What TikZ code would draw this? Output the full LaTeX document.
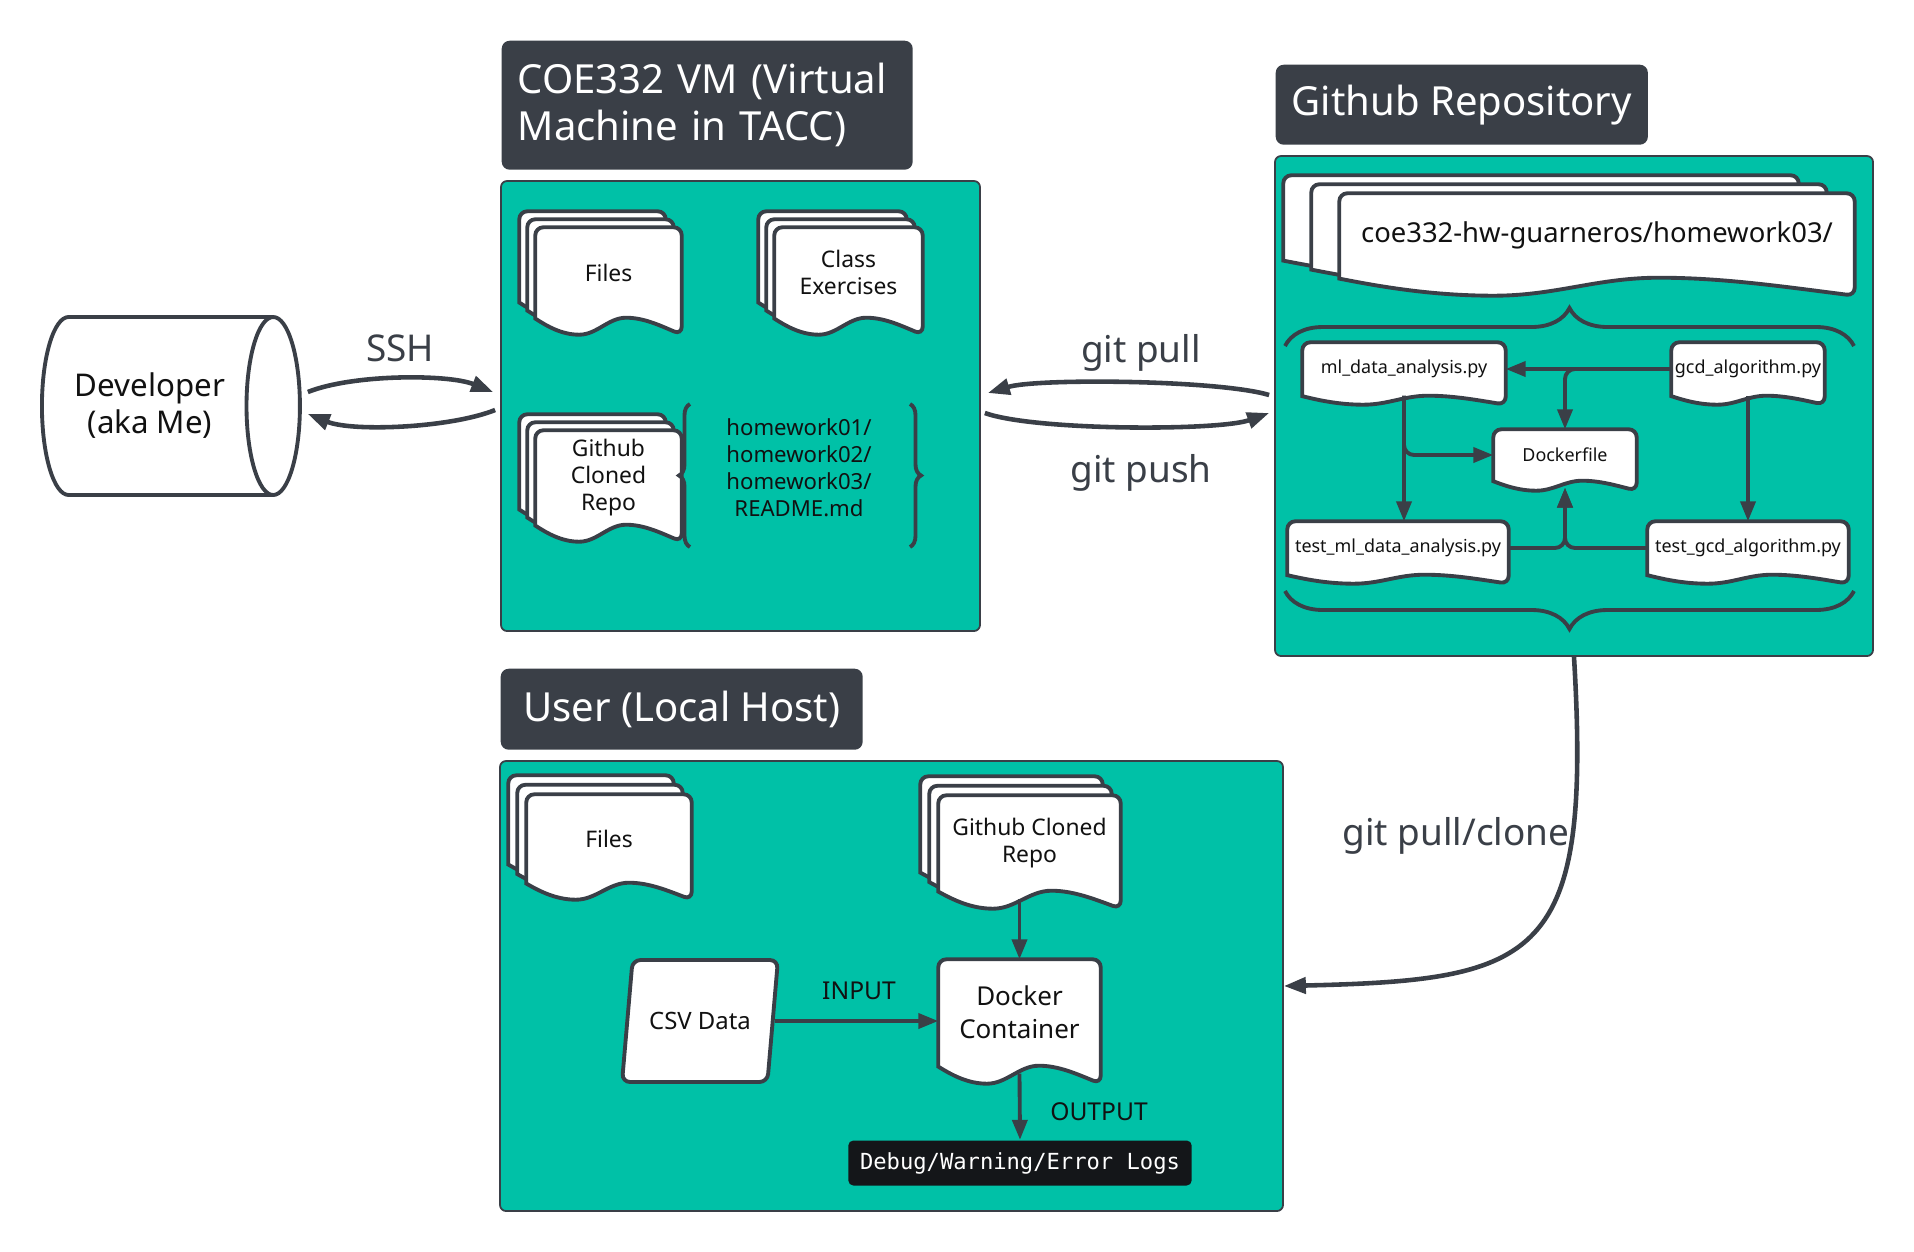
\documentclass[tikz,border=0pt]{standalone}
\usepackage{fontspec}
\setmainfont{Noto Sans}
\setmonofont{DejaVu Sans Mono}
\usetikzlibrary{shapes.geometric, arrows.meta, calc, positioning, decorations.pathreplacing}

\definecolor{teal0}{HTML}{00C1A7}
\definecolor{head}{HTML}{3A3F47}
\definecolor{linegray}{HTML}{3A3F47}
\definecolor{ink}{HTML}{111111}
\definecolor{logbg}{HTML}{141619}

\pgfdeclarelayer{panel}
\pgfdeclarelayer{docs}
\pgfsetlayers{panel,docs,main}

\tikzset{
  panel/.style={draw=linegray, line width=0.5pt, fill=teal0, rounded corners=0.6mm},
  header/.style={fill=head, text=white, rounded corners=0.8mm, anchor=north west, align=left,
    inner xsep=1.6mm, font=\fontsize{11.4}{13.4}\selectfont},
  docline/.style={draw=linegray, fill=white, line width=1.1pt},
  doc/.style 2 args={minimum width=#1, minimum height=#2, inner sep=0pt, align=center, text=ink,
    font=\fontsize{6.5}{7.7}\selectfont},
  pyfile/.style 2 args={doc={#1}{#2}, font=\fontsize{5.1}{6}\selectfont},
  conn/.style={draw=linegray, line width=1.1pt, -{Triangle[length=2mm,width=1.5mm]}},
  link/.style={draw=linegray, line width=1.3pt, -{Triangle[length=2.2mm,width=1.6mm]}},
  tag/.style={text=linegray, font=\fontsize{10.5}{12}\selectfont},
  bracket/.style={draw=linegray, line width=1.1pt, decorate},
}

\newcommand{\docpath}[2]{%
  \draw[docline] ($(#1.south west)+(0,0.05*#2)$) [rounded corners=0.8mm] -- (#1.north west)
    -- (#1.north east) -- ($(#1.south east)+(0,#2)$) [sharp corners]
    .. controls ($(#1.south west)!0.85!(#1.south east)+(0,0.45*#2)$)
       and ($(#1.south west)!0.74!(#1.south east)$) .. ($(#1.south west)!0.62!(#1.south east)$)
    .. controls ($(#1.south west)!0.5!(#1.south east)$)
       and ($(#1.south west)!0.42!(#1.south east)+(0,#2)$) .. ($(#1.south west)!0.3!(#1.south east)+(0,#2)$)
    .. controls ($(#1.south west)!0.18!(#1.south east)+(0,#2)$)
       and ($(#1.south west)!0.08!(#1.south east)+(0,0.5*#2)$) .. ($(#1.south west)+(0,0.05*#2)$) -- cycle;}

\newcommand{\docstack}[4]{%
  \begin{scope}[transform canvas={shift={(-2*#3,-2*#4)}}]\docpath{#1}{#2}\end{scope}
  \begin{scope}[transform canvas={shift={(-#3,-#4)}}]\docpath{#1}{#2}\end{scope}
  \docpath{#1}{#2}}

\begin{document}
\begin{tikzpicture}[x=0.1mm, y=-0.1mm]
\useasboundingbox (0,0) rectangle (1914,1251);

\begin{pgfonlayer}{panel}
\fill[white] (0,0) rectangle (1914,1251);
\node[panel, minimum width=47.9mm, minimum height=45mm] (vm) at (740.5,406) {};
\node[panel, minimum width=59.8mm, minimum height=50mm] (repo) at (1574,406) {};
\node[panel, minimum width=78.3mm, minimum height=45mm] (user) at (891.5,986) {};
\end{pgfonlayer}

\node[header, minimum width=41.1mm, minimum height=12.9mm, text width=37.9mm] (vmhead) at (501,40) {COE332 VM (Virtual\\Machine in TACC)};
\node[header, minimum width=36.8mm, minimum height=8mm] (repohead) at (1275,64) {Github Repository};
\node[header, minimum width=36.2mm, minimum height=8.1mm] (userhead) at (500,668) {User (Local Host)};

\node[cylinder, draw=linegray, fill=white, line width=1.1pt, shape aspect=0.6, minimum height=25.8mm,
  minimum width=17.8mm, anchor=west, text=ink, align=center, font=\fontsize{8.9}{10.5}\selectfont] (dev) at (40,406) {Developer\\(aka Me)};

\node[doc={14.5mm}{8.9mm}] (vmfiles) at (608.5,272.5) {Files};
\node[doc={14.7mm}{8.9mm}] (vmclass) at (848.5,272.5) {Class\\Exercises};
\node[doc={14.5mm}{9.3mm}] (vmclone) at (608.5,477.5) {Github\\Cloned\\Repo};
\node[text=ink, align=center, font=\fontsize{6.3}{7.7}\selectfont] (hwlist) at (799,468) {homework01/\\homework02/\\homework03/\\README.md};

\node[doc={51.4mm}{8.3mm}, font=\fontsize{7.8}{9.4}\selectfont] (repodir) at (1597,235.5) {\raisebox{-1.2mm}{coe332-hw-guarneros/homework03/}};
\node[pyfile={20.2mm}{5.2mm}] (ml) at (1404,369) {ml\_data\_analysis.py};
\node[pyfile={15.2mm}{5.2mm}] (gcd) at (1748,369) {gcd\_algorithm.py};
\node[pyfile={14.2mm}{5mm}] (dock) at (1565,455) {Dockerfile};
\node[pyfile={22mm}{5.2mm}] (testml) at (1398,548) {test\_ml\_data\_analysis.py};
\node[pyfile={20mm}{5.2mm}] (testgcd) at (1748,548) {test\_gcd\_algorithm.py};

\node[doc={16.4mm}{8.7mm}] (ufiles) at (609,838.5) {Files};
\node[doc={18.1mm}{9.4mm}] (uclone) at (1029.5,843) {Github Cloned\\Repo};
\node[doc={16.1mm}{10.5mm}, font=\fontsize{7.4}{9.3}\selectfont] (dockc) at (1019.5,1012.5) {Docker\\Container};
\node[trapezium, trapezium left angle=76.6, trapezium right angle=103.4, trapezium stretches,
  draw=linegray, fill=white, line width=1.1pt, rounded corners=0.8mm, minimum width=15.6mm,
  minimum height=12.2mm, text=ink, font=\fontsize{6.8}{8}\selectfont] (csv) at (700,1021) {CSV Data};
\node[fill=logbg, text=white, rounded corners=0.5mm, minimum width=33.8mm, minimum height=4.4mm,
  font=\ttfamily\fontsize{6.3}{7.5}\selectfont] (logs) at (1020,1163) {Debug/Warning/Error Logs};

\begin{pgfonlayer}{docs}
\docstack{vmfiles}{17}{8}{8}
\docstack{vmclass}{17}{8}{8}
\docstack{vmclone}{17}{8}{8}
\docstack{repodir}{18}{28}{9}
\docpath{ml}{9}
\docpath{gcd}{9}
\docpath{dock}{10}
\docpath{testml}{9}
\docpath{testgcd}{9}
\docstack{ufiles}{17}{9}{9.5}
\docstack{uclone}{18}{9}{9.5}
\docpath{dockc}{18}
\end{pgfonlayer}

\draw[bracket, decoration={brace, amplitude=1.1mm}] (690,547) -- (690,404);
\draw[bracket, decoration={brace, amplitude=1.1mm}] (910,404) -- (910,547);
\draw[bracket, decoration={brace, amplitude=3.8mm}] (1285,346) -- (1854,346);
\draw[bracket, decoration={brace, amplitude=3.8mm}] (1854,591) -- (1285,591);

\node[tag] (ssh) at (400,348) {SSH};
\node[tag] (pull) at (1141,353) {git pull};
\node[tag] (push) at (1141,473) {git push};
\node[tag] (clone) at (1456,836) {git pull/clone};
\node[text=ink, font=\fontsize{7}{8}\selectfont] (inlab) at (859,991) {INPUT};
\node[text=ink, font=\fontsize{7}{8}\selectfont] (outlab) at (1099,1112) {OUTPUT};

\draw[link] ($(dev.east)+(6,-14)$) .. controls +(45,-18) and +(-45,-18) .. ($(vm.west)+(-7,-14)$);
\draw[link] ($(vm.west)+(-5,4)$) .. controls +(-45,18) and +(45,18) .. ($(dev.east)+(6,8)$);
\draw[link] ($(repo.west)+(-5,-11)$) .. controls +(-50,-15) and +(50,-15) .. ($(vm.east)+(7,-13)$);
\draw[link] ($(vm.east)+(4,7)$) .. controls +(50,18) and +(-50,18) .. ($(repo.west)+(-5,7)$);
\draw[link] (repo.south) .. controls (1592,960) and (1540,980) .. (user.east);

\draw[conn] (gcd.west) -- (ml.east);
\draw[conn, rounded corners=1mm] (gcd.west) -| (dock.north);
\draw[conn] (ml.south) -- (ml.south |- testml.north);
\draw[conn, rounded corners=1mm] (ml.south) |- (dock.west);
\draw[conn] (gcd.south) -- (testgcd.north);
\draw[conn, rounded corners=1mm] (testml.east) -| ($(dock.south)+(0,7)$);
\draw[conn, rounded corners=1mm] (testgcd.west) -| ($(dock.south)+(0,7)$);

\draw[conn] ($(uclone.south -| dockc.north)+(0,8)$) -- (dockc.north);
\draw[conn] (csv.east) -- (csv.east -| dockc.west);
\draw[conn] ($(dockc.south)+(0,8)$) -- (logs.north);

\end{tikzpicture}
\end{document}
